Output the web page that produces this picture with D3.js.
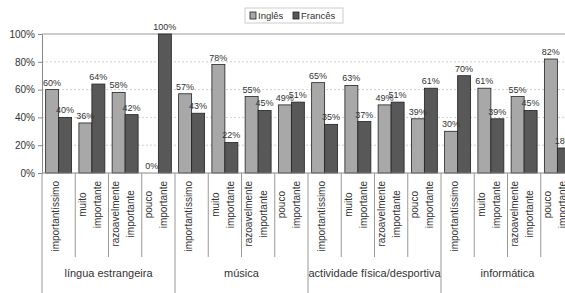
<!DOCTYPE html>
<html><head><meta charset="utf-8">
<script src="https://cdn.jsdelivr.net/npm/d3@7"></script>
<style>body{margin:0;background:#fff}svg{display:block;font-family:"Liberation Sans",Arial,sans-serif}</style>
</head><body>
<svg id="c" width="565" height="293"></svg>
<script>
const groups = ["língua estrangeira","música","actividade física/desportiva","informática"];
const levelLines = [["importantíssimo"],["muito","importante"],["razoavelmente","importante"],["pouco","importante"]];
const series = ["Inglês","Francês"];
const ingles  = [60,36,58,0, 57,78,55,49, 65,63,49,39, 30,61,55,82];
const frances = [40,64,42,100, 43,22,45,51, 35,37,51,61, 70,39,45,18];
const yTicks = [0,20,40,60,80,100];
const colors = {"Inglês":"#a8a8a8","Francês":"#585858"};

const svg = d3.select("#c");
const nCat = groups.length * levelLines.length;
const cats = d3.range(nCat);
const x0 = 42, catW = 33.25;
const x = d3.scaleBand().domain(cats).range([x0, x0 + nCat*catW]).paddingInner(0).paddingOuter(0);
const xs = d3.scaleBand().domain(series).range([0, x.bandwidth()]).paddingInner(0).paddingOuter(0.28);
const y = d3.scaleLinear().domain([0,100]).range([173,34]);
const W = 565;

// gridlines
svg.append("g").selectAll("line").data(yTicks.filter(t=>t>0&&t<100)).join("line")
  .attr("x1",x0).attr("x2",W).attr("y1",d=>y(d)).attr("y2",d=>y(d))
  .attr("stroke","#d0d0d0").attr("stroke-dasharray","2,2").attr("stroke-width",1);
svg.append("line").attr("x1",x0).attr("x2",W).attr("y1",y(100)).attr("y2",y(100))
  .attr("stroke","#999").attr("stroke-width",1);

// y axis
const yAxis = d3.axisLeft(y).tickValues(yTicks).tickFormat(d=>d+"%").tickSize(4).tickSizeOuter(0);
const gy = svg.append("g").attr("transform",`translate(${x0},0)`).call(yAxis);
gy.select(".domain").attr("stroke","#888");
gy.selectAll(".tick line").attr("stroke","#888");
gy.selectAll(".tick text").attr("font-size",10).attr("fill","#333").attr("font-family","Liberation Sans, Arial, sans-serif").attr("x",-7);

// bars
const data = [];
cats.forEach(i=>{ data.push({i,s:"Inglês",v:ingles[i]}); data.push({i,s:"Francês",v:frances[i]}); });
svg.append("g").selectAll("rect").data(data.filter(d=>d.v>0)).join("rect")
  .attr("x",d=>x(d.i)+xs(d.s)).attr("width",xs.bandwidth())
  .attr("y",d=>y(d.v)).attr("height",d=>y(0)-y(d.v))
  .attr("fill",d=>colors[d.s]).attr("stroke","#222").attr("stroke-width",0.8);

// data labels
svg.append("g").selectAll("text").data(data).join("text")
  .attr("x",d=>x(d.i)+xs(d.s)+xs.bandwidth()/2).attr("y",d=>y(d.v)-4)
  .attr("text-anchor","middle").attr("font-size",9).attr("fill","#333")
  .text(d=>d.v+"%");

// x baseline
svg.append("line").attr("x1",x0).attr("x2",W).attr("y1",y(0)).attr("y2",y(0)).attr("stroke","#888");

// separators
svg.append("g").selectAll("line").data(d3.range(nCat+1)).join("line")
  .attr("x1",i=>x0+i*catW).attr("x2",i=>x0+i*catW)
  .attr("y1",y(0)).attr("y2",i=>i%levelLines.length===0?293:257)
  .attr("stroke","#999").attr("stroke-width",1);

// category labels (rotated, reading upward)
cats.forEach(i=>{
  const lines = levelLines[i % levelLines.length];
  const cx = x(i) + x.bandwidth()/2;
  const g = svg.append("g");
  const texts = lines.map((ln,k)=>{
    const bx = lines.length===1 ? cx+0.5 : cx + (k===0?-6:9);
    return g.append("text").attr("font-size",10).attr("fill","#333")
      .attr("text-anchor","middle").attr("data-bx",bx).text(ln);
  });
  const L = d3.max(texts, t=>t.node().getComputedTextLength());
  const cy = 181 + L/2;
  texts.forEach(t=>{
    t.attr("transform",`translate(${t.attr("data-bx")},${cy}) rotate(-90)`);
  });
});

// group labels
svg.append("g").selectAll("text").data(groups).join("text")
  .attr("x",(d,gi)=>x0 + (gi*4+2)*catW).attr("y",277)
  .attr("text-anchor","middle").attr("font-size",11).attr("fill","#333").text(d=>d);

// legend
const lg = svg.append("g");
lg.append("rect").attr("x",245).attr("y",8).attr("width",98).attr("height",15)
  .attr("fill","#fff").attr("stroke","#ccc");
const lx = [250, 293];
series.forEach((s,k)=>{
  lg.append("rect").attr("x",lx[k]).attr("y",12).attr("width",6).attr("height",7)
    .attr("fill",colors[s]).attr("stroke","#222").attr("stroke-width",0.8);
  lg.append("text").attr("x",lx[k]+8).attr("y",19).attr("font-size",9.5).attr("fill","#333").text(s);
});
</script>
</body></html>
